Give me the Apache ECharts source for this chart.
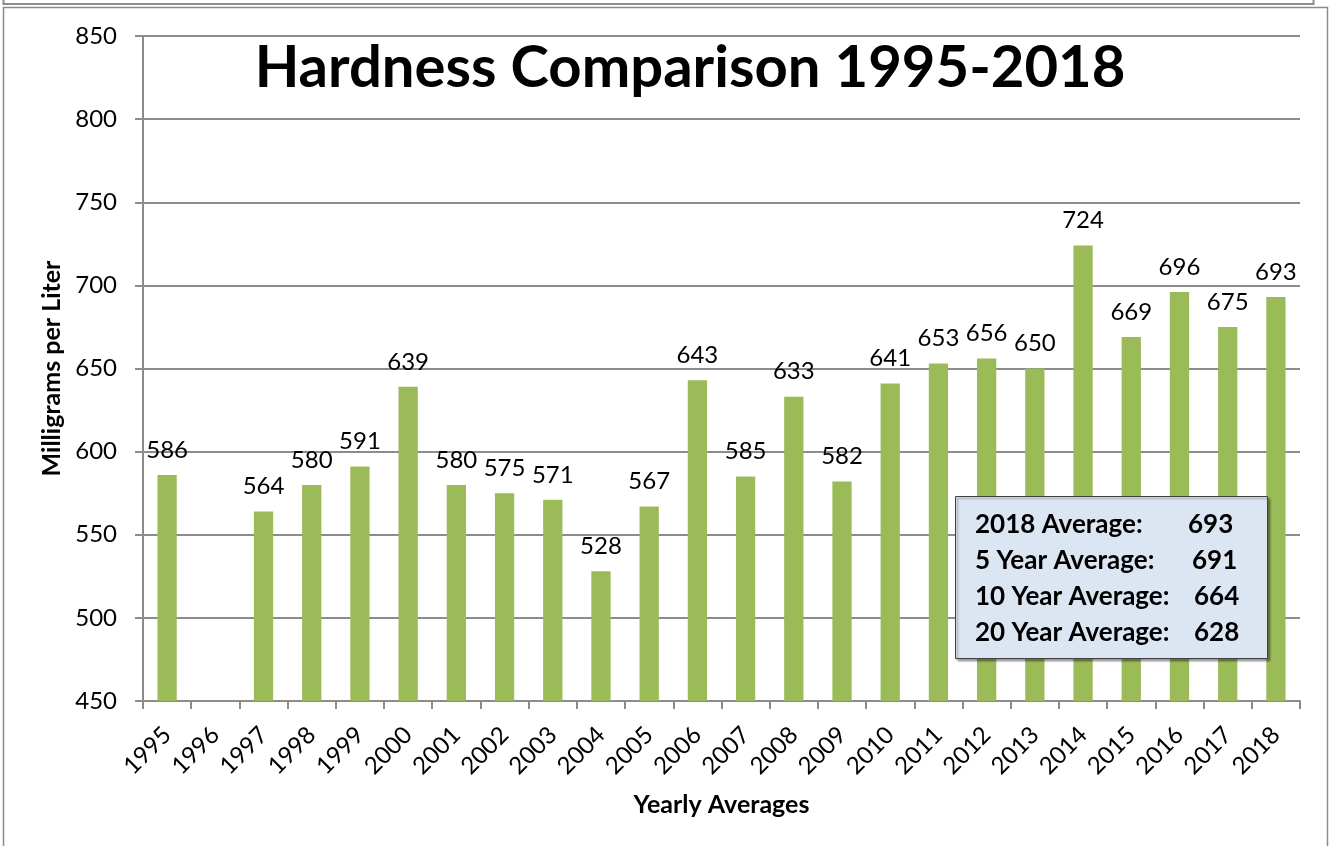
<!DOCTYPE html>
<html>
<head>
<meta charset="utf-8">
<script src="https://cdn.jsdelivr.net/npm/echarts@6/dist/echarts.min.js"></script>
<style>
  html, body { margin: 0; padding: 0; background: #fff; }
  #chart { width: 1330px; height: 846px; }
</style>
</head>
<body>
<div id="chart"></div>
<script>
const years = ['1995', '1996', '1997', '1998', '1999', '2000', '2001', '2002', '2003', '2004', '2005', '2006',
  '2007', '2008', '2009', '2010', '2011', '2012', '2013', '2014', '2015', '2016', '2017', '2018']
// 1996 sits just under the axis minimum in the picture, with no label
const hardness = [586, 449, 564, 580, 591, 639, 580, 575, 571, 528, 567, 643,
  585, 633, 582, 641, 653, 656, 650, 724, 669, 696, 675, 693]
const summaryLabels = ['2018 Average:', '5 Year Average:', '10 Year Average:', '20 Year Average:']
const summaryValues = [693, 691, 664, 628]

const font = 'Lato'
const gridColor = '#8c8c8c'
const barColor = '#9bbb59'

var myChart = echarts.init(document.getElementById('chart'))

var barData = hardness.map((v, i) => {
  var item = { value: v }
  if (years[i] == '1996') {
    item.label = { show: false }
  }
  return item
})

// summary box in the lower right
var summaryX = [1188, 1192, 1194, 1194]
var summaryGraphics = [{
  type: 'rect',
  shape: { x: 955.5, y: 496.5, width: 312, height: 162 },
  style: { fill: '#dce6f2', stroke: '#404040', lineWidth: 1, shadowColor: 'rgba(0,0,0,0.35)', shadowOffsetX: 2, shadowOffsetY: 2, shadowBlur: 2 },
  z: 10
}]
summaryLabels.forEach((label, i) => {
  summaryGraphics.push({
    type: 'text', x: 975, y: 525 + i * 36, z: 11,
    style: { text: label, font: 'bold 26px ' + font, fill: '#000', verticalAlign: 'middle' }
  })
  summaryGraphics.push({
    type: 'text', x: summaryX[i], y: 525 + i * 36, z: 11,
    style: { text: String(summaryValues[i]), font: 'bold 26px ' + font, fill: '#000', verticalAlign: 'middle' }
  })
})

const option = {
  animation: false,
  title: {
    text: 'Hardness Comparison 1995-2018',
    left: 685,
    top: 34,
    textAlign: 'center',
    textStyle: { fontFamily: font, fontWeight: 'bold', fontSize: 58, color: '#000' }
  },
  grid: { left: 143, right: 30, top: 36, bottom: 145 },
  xAxis: {
    type: 'category',
    data: years,
    boundaryGap: true,
    name: 'Yearly Averages',
    nameLocation: 'middle',
    nameGap: 91,
    nameTextStyle: { fontFamily: font, fontWeight: 'bold', fontSize: 25, color: '#000' },
    axisLine: { lineStyle: { color: gridColor, width: 2 } },
    axisTick: { show: true, length: 8, lineStyle: { color: gridColor, width: 2 } },
    axisLabel: { rotate: 45, margin: 30, fontFamily: font, fontSize: 24, color: '#000', interval: 0 }
  },
  yAxis: {
    type: 'value',
    min: 450,
    max: 850,
    interval: 50,
    name: 'Milligrams per Liter',
    nameLocation: 'middle',
    nameGap: 78,
    nameTextStyle: { fontFamily: font, fontWeight: 'bold', fontSize: 25, color: '#000' },
    axisLine: { show: true, lineStyle: { color: gridColor, width: 2 } },
    axisTick: { show: true, length: 8, lineStyle: { color: gridColor, width: 2 } },
    axisLabel: { margin: 26, fontFamily: font, fontSize: 24, color: '#000' },
    splitLine: { lineStyle: { color: gridColor, width: 2 } }
  },
  series: [{
    type: 'bar',
    data: barData,
    barCategoryGap: '60%',
    itemStyle: { color: barColor },
    label: {
      show: true,
      position: 'top',
      distance: 13,
      fontFamily: font,
      fontSize: 24,
      color: '#000'
    }
  }],
  graphic: [
    { type: 'rect', shape: { x: 3.5, y: -10, width: 1310, height: 14 }, style: { fill: 'none', stroke: '#8c8c8c', lineWidth: 2 } },
    { type: 'rect', shape: { x: 3.5, y: 7.5, width: 1324, height: 860 }, style: { fill: 'none', stroke: '#8c8c8c', lineWidth: 1.5 } }
  ].concat(summaryGraphics)
}

myChart.setOption(option)
</script>
</body>
</html>
